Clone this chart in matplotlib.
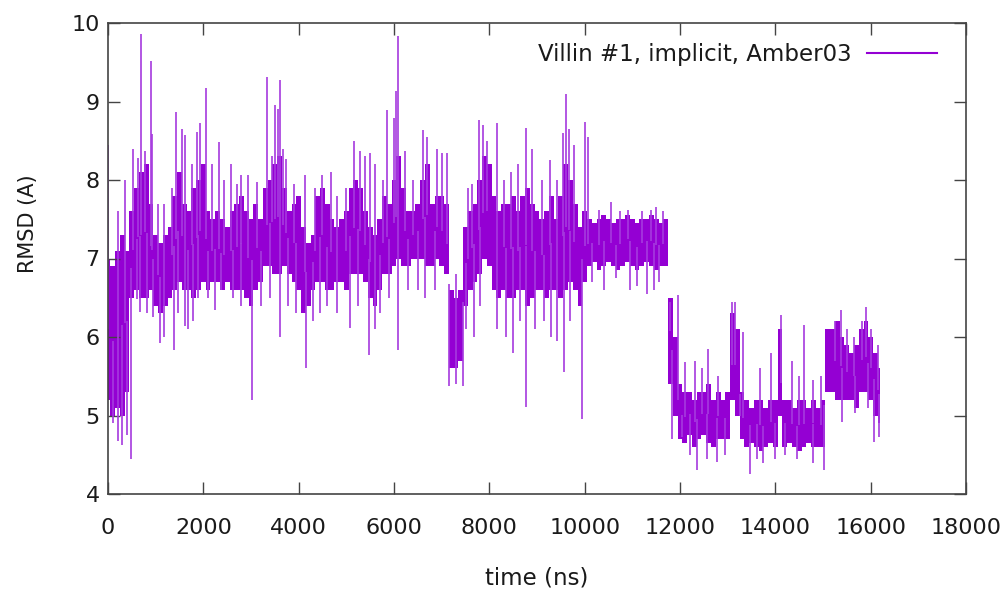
import numpy as np
import matplotlib

matplotlib.use("Agg")
import matplotlib.pyplot as plt  # noqa: E402

# core band of the RMSD trace, one value every 100 ns (0 .. 16200 ns)
time_ns = list(range(0, 16201, 100))

core_lo = [
    5.2, 5.0, 5.1, 5.0, 5.3, 6.5, 6.6, 6.5, 6.5, 6.6,
    6.4, 6.3, 6.4, 6.5, 6.6, 6.7, 6.6, 6.6, 6.5, 6.6,
    6.7, 6.6, 6.7, 6.7, 6.6, 6.7, 6.6, 6.6, 6.6, 6.5,
    6.4, 6.6, 6.7, 6.9, 6.9, 6.8, 6.8, 6.9, 6.8, 6.7,
    6.6, 6.3, 6.4, 6.6, 6.7, 6.7, 6.6, 6.6, 6.7, 6.7,
    6.6, 6.8, 6.8, 6.8, 6.7, 6.5, 6.4, 6.6, 6.8, 6.8,
    6.9, 7.0, 6.9, 6.9, 7.0, 7.0, 7.0, 6.9, 6.9, 7.0,
    6.9, 6.8, 5.6, 5.6, 5.7, 6.4, 6.6, 6.7, 6.8, 7.0,
    6.9, 6.6, 6.5, 6.6, 6.5, 6.5, 6.6, 6.6, 6.4, 6.5,
    6.6, 6.6, 6.5, 6.6, 6.6, 6.5, 6.6, 6.7, 6.6, 6.4,
    6.7, 6.9, 6.95, 6.85, 6.9, 6.95, 6.9, 6.85, 6.9, 6.95,
    6.9, 6.85, 6.9, 6.95, 6.9, 6.85, 6.9, 6.9, 5.4, 5.0,
    4.7, 4.65, 4.75, 4.6, 4.7, 4.75, 4.65, 4.6, 4.7, 4.7,
    4.7, 5.2, 5.0, 4.7, 4.6, 4.65, 4.6, 4.55, 4.6, 4.65,
    4.6, 5.0, 4.6, 4.65, 4.6, 4.55, 4.6, 4.65, 4.6, 4.6,
    4.6, 5.3, 5.3, 5.2, 5.2, 5.2, 5.2, 5.1, 5.3, 5.3,
    5.2, 5.0, 4.9,
]

core_hi = [
    7.0, 6.9, 7.1, 7.3, 7.1, 7.6, 7.9, 8.1, 8.2, 7.7,
    7.3, 7.2, 7.3, 7.4, 7.8, 8.1, 7.7, 7.6, 7.9, 8.0,
    8.2, 7.6, 7.5, 7.6, 7.5, 7.4, 7.6, 7.7, 7.8, 7.6,
    7.5, 7.7, 7.5, 7.9, 8.0, 8.2, 8.3, 7.9, 7.6, 7.7,
    7.8, 7.4, 7.2, 7.3, 7.8, 7.9, 7.7, 7.5, 7.4, 7.5,
    7.6, 7.9, 8.0, 7.9, 7.6, 7.4, 7.3, 7.5, 7.8, 7.7,
    8.0, 8.3, 7.9, 7.6, 7.6, 7.7, 8.0, 8.2, 7.7, 7.8,
    7.8, 7.7, 6.6, 6.5, 6.6, 7.4, 7.6, 7.7, 8.0, 8.3,
    8.2, 7.8, 7.6, 7.7, 7.7, 7.8, 7.6, 7.8, 7.9, 7.7,
    7.6, 7.5, 7.6, 7.8, 7.5, 7.8, 8.2, 8.0, 7.7, 7.4,
    7.6, 7.5, 7.45, 7.5, 7.55, 7.5, 7.45, 7.5, 7.5, 7.55,
    7.5, 7.45, 7.5, 7.5, 7.55, 7.5, 7.45, 7.5, 6.5, 6.0,
    5.4, 5.3, 5.3, 5.2, 5.3, 5.3, 5.4, 5.2, 5.3, 5.2,
    5.3, 6.3, 6.1, 5.3, 5.2, 5.1, 5.2, 5.2, 5.1, 5.2,
    5.2, 6.1, 5.2, 5.2, 5.1, 5.2, 5.2, 5.1, 5.2, 5.1,
    5.2, 6.1, 6.1, 6.2, 6.0, 5.9, 5.8, 5.9, 6.1, 6.2,
    6.0, 5.8, 5.6,
]

# single excursions above and below the band
up_t = [0, 210, 350, 531, 636, 692, 776, 895, 916, 1056, 1182, 1336, 1427,
        1546, 1615, 1769, 1860, 1930, 2056, 2175, 2335, 2434, 2580, 2700,
        2780, 2940, 3120, 3343, 3440, 3504, 3560, 3608, 3680, 3735, 3900,
        4133, 4350, 4497, 4672, 4800, 5000, 5168, 5287, 5392, 5500, 5600,
        5760, 5847, 6000, 6040, 6091, 6231, 6400, 6616, 6700, 6896, 7000,
        7106, 7300, 7550, 7640, 7784, 7870, 7950, 8155, 8300, 8450, 8600,
        8763, 8900, 9100, 9280, 9420, 9555, 9602, 9680, 9770, 10008, 10070,
        10300, 10550, 10750, 10900, 11200, 11400, 11500, 11650, 11790,
        11966, 12105, 12315, 12470, 12595, 12800, 13085, 13155, 13330,
        13680, 13910, 14120, 14343, 14500, 14610, 14800, 14950, 15250,
        15370, 15500, 15660, 15820, 15900, 16000, 16150]
up_v = [8.45, 7.6, 8.0, 8.4, 8.28, 9.86, 8.37, 9.51, 8.59, 7.7, 7.7, 7.9, 8.87,
        8.65, 8.57, 8.2, 8.61, 8.72, 9.17, 8.2, 8.48, 8.0, 8.2, 7.95,
        8.06, 8.06, 7.98, 9.31, 8.3, 8.96, 8.9, 9.27, 8.4, 8.27, 7.95,
        8.06, 7.9, 8.06, 8.1, 7.8, 7.9, 8.5, 8.37, 8.3, 8.35, 8.2,
        8.0, 8.89, 8.79, 9.14, 9.83, 8.37, 8.0, 8.64, 8.55, 8.4, 8.35,
        8.35, 6.8, 7.9, 7.95, 8.76, 8.7, 8.5, 8.72, 8.0, 8.1, 8.2,
        8.66, 8.4, 8.0, 8.25, 8.0, 8.6, 9.1, 8.65, 8.45, 8.74, 8.55,
        7.62, 7.72, 7.6, 7.62, 7.6, 7.62, 7.65, 7.6, 6.45,
        6.53, 5.68, 5.7, 5.6, 5.85, 5.5, 6.45, 6.45, 6.06,
        5.6, 5.79, 6.28, 5.7, 5.5, 6.15, 5.45, 5.5, 6.2,
        6.35, 6.1, 6.0, 6.2, 6.38, 6.1, 5.9]

down_t = [100, 200, 300, 400, 480, 601, 671, 811, 950, 1091, 1182, 1385, 1476,
          1615, 1686, 1790, 1895, 2100, 2240, 2380, 2620, 2800, 3015, 3200,
          3400, 3608, 3770, 3950, 4147, 4300, 4450, 4600, 4800, 5077, 5250,
          5476, 5600, 5700, 5900, 6091, 6300, 6500, 6650, 6850, 7150, 7300,
          7440, 7520, 7680, 7800, 8155, 8345, 8503, 8650, 8769, 8950, 9150,
          9300, 9420, 9573, 9700, 9937, 10150, 10400, 10650, 10950, 11100,
          11300, 11450, 11560, 11825, 12050, 12200, 12350, 12560, 12770,
          12940, 13250, 13470, 13610, 13750, 13990, 14200, 14450, 14790,
          15030, 15390, 15680, 15950, 16065, 16185]
down_v = [4.9, 4.68, 4.62, 4.75, 4.45, 6.49, 6.32, 6.3, 6.25, 5.92, 6.0, 5.84, 6.3,
          6.14, 6.1, 6.2, 6.5, 6.5, 6.34, 6.6, 6.5, 6.4, 5.2, 6.4,
          6.5, 6.0, 6.4, 6.3, 5.6, 6.2, 6.3, 6.4, 6.3, 6.12, 6.4,
          5.77, 6.1, 6.3, 6.5, 5.84, 6.6, 6.6, 6.5, 6.6, 5.37, 5.4,
          5.37, 6.1, 6.0, 6.4, 6.1, 6.0, 5.79, 6.2, 5.11, 6.1, 6.2,
          6.0, 5.95, 5.55, 6.2, 4.96, 6.7, 6.6, 6.75, 6.6, 6.65,
          6.55, 6.6, 6.7, 4.7, 4.72, 4.5, 4.30, 4.45, 4.41,
          4.5, 5.0, 4.26, 4.45, 4.4, 4.45, 4.5, 4.45, 4.4,
          4.3, 4.92, 5.03, 5.1, 4.66, 4.73]

x_ticks = [0, 2000, 4000, 6000, 8000, 10000, 12000, 14000, 16000, 18000]
y_ticks = [4, 5, 6, 7, 8, 9, 10]

LINE_COLOR = "#9400d3"
SPIKE_COLOR = "#a53ade"
TEXT_COLOR = "#1a1a1a"
FRAME_COLOR = "#444444"

fig = plt.figure(figsize=(10.08, 5.95), dpi=100)
ax = fig.add_axes([108 / 1008, 101 / 595, 858 / 1008, 471 / 595])

t = np.array(time_ns)
lo = np.array(core_lo)
hi = np.array(core_hi)
mid = (lo + hi) / 2

ax.vlines(up_t, np.interp(up_t, t, mid), up_v, color=SPIKE_COLOR,
          linewidth=1.2)
ax.vlines(down_t, np.interp(down_t, t, mid), down_v, color=SPIKE_COLOR,
          linewidth=1.2)
ax.fill_between(t, lo, hi, step="mid", color=LINE_COLOR, linewidth=0)

# legend entry only (gnuplot style: text first, sample after)
ax.plot([], [], color=LINE_COLOR, linewidth=1.5,
        label="Villin #1, implicit, Amber03")
ax.legend(loc="upper right", bbox_to_anchor=(0.9767, 0.9766),
          borderaxespad=0, frameon=False, markerfirst=False,
          fontsize=16.5, handlelength=3.05, handletextpad=0.65,
          labelcolor=TEXT_COLOR)

ax.set_xlim(0, 18000)
ax.set_ylim(4, 10)
ax.set_xticks(x_ticks)
ax.set_yticks(y_ticks)
ax.tick_params(direction="in", length=8.5, width=1, color=FRAME_COLOR,
               top=True, right=True, labelsize=16, labelcolor=TEXT_COLOR)
ax.tick_params(axis="x", pad=17)
ax.tick_params(axis="y", pad=6)
for spine in ax.spines.values():
    spine.set_color(FRAME_COLOR)
    spine.set_linewidth(1.2)

fig.text(537 / 1008, 1 - 578 / 595, "time (ns)", ha="center", va="center",
         fontsize=16.5, color=TEXT_COLOR)
fig.text(28 / 1008, 1 - 224 / 595, "RMSD (A)", ha="center", va="center",
         rotation=90, fontsize=15, color=TEXT_COLOR)

fig.savefig("out.png", dpi=100)
plt.close(fig)
